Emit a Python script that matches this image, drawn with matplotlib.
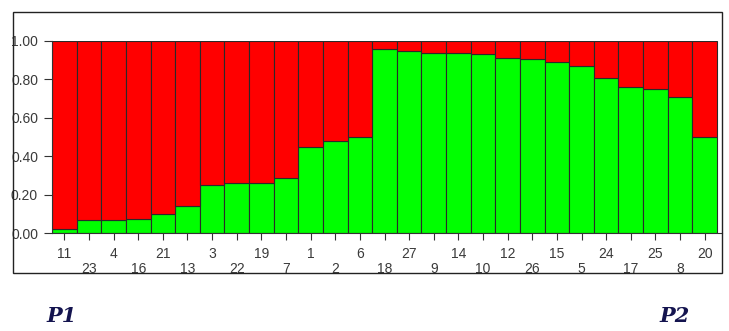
import matplotlib
matplotlib.use('Agg')
import matplotlib.pyplot as plt
from matplotlib.patches import Rectangle

# sample order as shown along the x axis
samples = ['11', '23', '4', '16', '21', '13', '3', '22', '19', '7', '1', '2', '6', '18',
           '27', '9', '14', '10', '12', '26', '15', '5', '24', '17', '25', '8', '20']
# membership in the green cluster (P2); the rest is red (P1)
green = [0.02, 0.07, 0.07, 0.075, 0.10, 0.14, 0.25, 0.26, 0.26, 0.29, 0.45, 0.48, 0.50, 0.96,
         0.95, 0.94, 0.94, 0.93, 0.91, 0.905, 0.89, 0.87, 0.81, 0.76, 0.75, 0.71, 0.50]
red = [1 - g for g in green]
yticks = [0.0, 0.2, 0.4, 0.6, 0.8, 1.0]

W, H = 729, 331
fig = plt.figure(figsize=(W / 100, H / 100), dpi=100)
fig.patch.set_facecolor('white')

left, right, bottom, top = 52, 722, 233.3, 41
ax = fig.add_axes([left / W, 1 - bottom / H, (right - left) / W, (bottom - top) / H])

narrow = ['Liberation Sans Narrow', 'Liberation Sans', 'DejaVu Sans']
xs = [i + 0.5 for i in range(len(samples))]
ax.bar(xs, green, width=1.0, color='#00ff00', edgecolor='#2a2a2a', linewidth=0.8)
ax.bar(xs, red, width=1.0, bottom=green, color='#ff0000', edgecolor='#2a2a2a', linewidth=0.8)

ax.set_xlim(0, (right - left) / ((717 - left) / len(samples)))
ax.set_ylim(0, 1.0)
ax.set_facecolor('white')
for s in ['top', 'right']:
    ax.spines[s].set_visible(False)
ax.spines['left'].set_color('#333333')
ax.spines['bottom'].set_color('#333333')

ax.set_yticks(yticks)
ax.set_yticklabels([f'{v:.2f}' for v in yticks], fontfamily=narrow, fontsize=10, color='#3a3a3a')
ax.tick_params(axis='y', length=6, width=0.8, color='#333333', pad=4)

ax.set_xticks(xs[0::2])
ax.set_xticklabels(samples[0::2], fontfamily=narrow, fontsize=10, color='#3a3a3a')
ax.set_xticks(xs[1::2], minor=True)
ax.set_xticklabels(samples[1::2], minor=True, fontfamily=narrow, fontsize=10, color='#3a3a3a')
ax.tick_params(axis='x', which='major', length=5, width=0.8, color='#333333', pad=5)
ax.tick_params(axis='x', which='minor', length=5, width=0.8, color='#333333', pad=16)

# frame around the plot
fig.patches.append(Rectangle((12.5 / W, 1 - 273 / H), (722 - 12.5) / W, (273 - 11.5) / H,
                             transform=fig.transFigure, fill=False, edgecolor='#222222',
                             linewidth=1.0))

for label, x in [('P1', 62), ('P2', 675)]:
    fig.text(x / W, 1 - 316 / H, label, ha='center', va='center', fontsize=15,
             fontweight='bold', fontstyle='italic', family='DejaVu Serif', color='#14144f')

fig.savefig('out.png', dpi=100)
